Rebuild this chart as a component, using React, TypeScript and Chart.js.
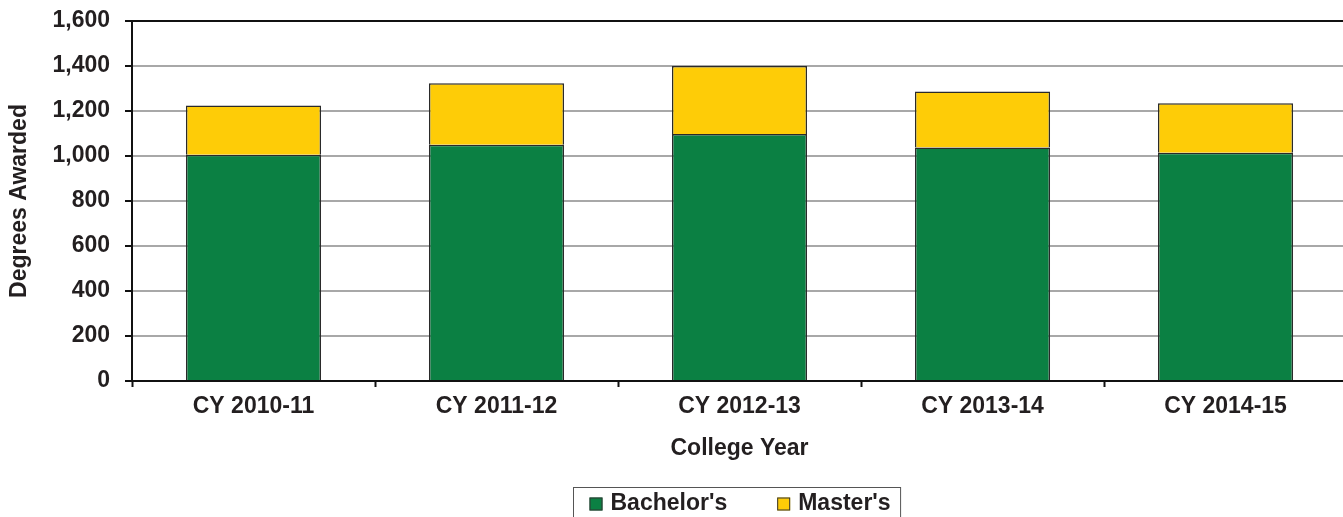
import React, { useEffect, useRef } from "react";
import { Chart, registerables } from "chart.js";

Chart.register(...registerables);

const categories = ["CY 2010-11", "CY 2011-12", "CY 2012-13", "CY 2013-14", "CY 2014-15"];
const bachelors = [1006, 1050, 1098, 1038, 1015];
const masters = [219, 273, 302, 249, 219];
const seriesLabels = ["Bachelor's", "Master's"];
const seriesColors = ["#0B8043", "#FECC07"];

const FONT = "'Liberation Sans', Arial, sans-serif";
const TEXT = "#231F20";
const FS = 23;

const legendPlugin = {
  id: "boxLegend",
  afterDraw(chart: any) {
    const ctx = chart.ctx;
    const area = chart.chartArea;
    ctx.save();
    ctx.font = `bold ${FS}px ${FONT}`;
    const box = 13;
    const gap = 8;
    const itemGap = 50;
    const padL = 16;
    const padR = 10;
    const items = chart.data.datasets.map((d: any) => ({
      label: d.label,
      color: d.backgroundColor,
      w: ctx.measureText(d.label).width,
    }));
    let total = padL + padR;
    items.forEach((it: any, i: number) => {
      total += box + gap + it.w + (i < items.length - 1 ? itemGap : 0);
    });
    const cx = (area.left + area.right) / 2 - 3;
    const left = Math.round(cx - total / 2) + 0.5;
    const top = 487.5;
    ctx.strokeStyle = "#555";
    ctx.lineWidth = 1;
    ctx.strokeRect(left, top, total, 60);
    let x = left + padL;
    const cy = 504;
    items.forEach((it: any) => {
      ctx.fillStyle = it.color;
      ctx.fillRect(x, cy - 6.5, box, box);
      ctx.strokeStyle = "#333";
      ctx.strokeRect(x + 0.5, cy - 6, box - 1, box - 1);
      x += box + gap;
      ctx.fillStyle = TEXT;
      ctx.textBaseline = "middle";
      ctx.textAlign = "left";
      ctx.fillText(it.label, x, cy);
      x += it.w + itemGap;
    });
    ctx.restore();
  },
};

export default function App() {
  const ref = useRef<HTMLCanvasElement | null>(null);
  useEffect(() => {
    if (!ref.current) return;
    const chart = new Chart(ref.current, {
      type: "bar",
      data: {
        labels: categories,
        datasets: [
          {
            label: seriesLabels[0],
            data: bachelors,
            backgroundColor: seriesColors[0],
            borderColor: "#2a2a2a",
            borderWidth: 1.5,
            categoryPercentage: 0.556,
            barPercentage: 1,
          },
          {
            label: seriesLabels[1],
            data: masters,
            backgroundColor: seriesColors[1],
            borderColor: "#2a2a2a",
            borderWidth: 1.5,
            categoryPercentage: 0.556,
            barPercentage: 1,
          },
        ],
      },
      options: {
        responsive: false,
        animation: false,
        devicePixelRatio: 1,
        layout: { padding: { top: 21, right: 13, bottom: 68, left: 0 } },
        plugins: {
          legend: { display: false },
          tooltip: { enabled: false },
        },
        scales: {
          x: {
            stacked: true,
            grid: {
              display: true,
              drawOnChartArea: false,
              offset: true,
              tickLength: 6,
              tickColor: "#111",
              tickWidth: 2,
            },
            border: { display: true, color: "#111", width: 2 },
            ticks: {
              padding: 6,
              color: TEXT,
              font: { family: FONT, size: FS, weight: "bold" },
              maxRotation: 0,
            },
            title: {
              display: true,
              text: "College Year",
              color: TEXT,
              font: { family: FONT, size: FS, weight: "bold" },
              padding: { top: 0, bottom: 0 },
            },
            afterFit(scale: any) {
              scale.height = 81;
            },
          },
          y: {
            stacked: true,
            min: 0,
            max: 1600,
            grid: {
              color: (c: any) => (c.tick && c.tick.value === 1600 ? "#111" : "#a8a8a8"),
              lineWidth: 2,
              tickLength: 7,
              tickColor: "#111",
              tickWidth: 2,
            },
            border: { display: true, color: "#111", width: 2 },
            ticks: {
              stepSize: 200,
              padding: 15,
              color: TEXT,
              font: { family: FONT, size: FS, weight: "bold" },
              callback: (v: any) => Number(v).toLocaleString("en-US"),
            },
            title: {
              display: true,
              text: "Degrees Awarded",
              color: TEXT,
              font: { family: FONT, size: FS, weight: "bold" },
              padding: { top: 6, bottom: 0 },
            },
            afterFit(scale: any) {
              scale.width = 132;
              scale.paddingTop = 0;
              scale.paddingBottom = 0;
            },
          },
        },
      },
      plugins: [legendPlugin],
    });
    return () => chart.destroy();
  }, []);
  return (
    <div style={{ position: "fixed", left: 0, top: 0, width: 1343, height: 517, overflow: "hidden", background: "#fff" }}>
      <canvas ref={ref} width={1360} height={530} style={{ display: "block" }} />
    </div>
  );
}
